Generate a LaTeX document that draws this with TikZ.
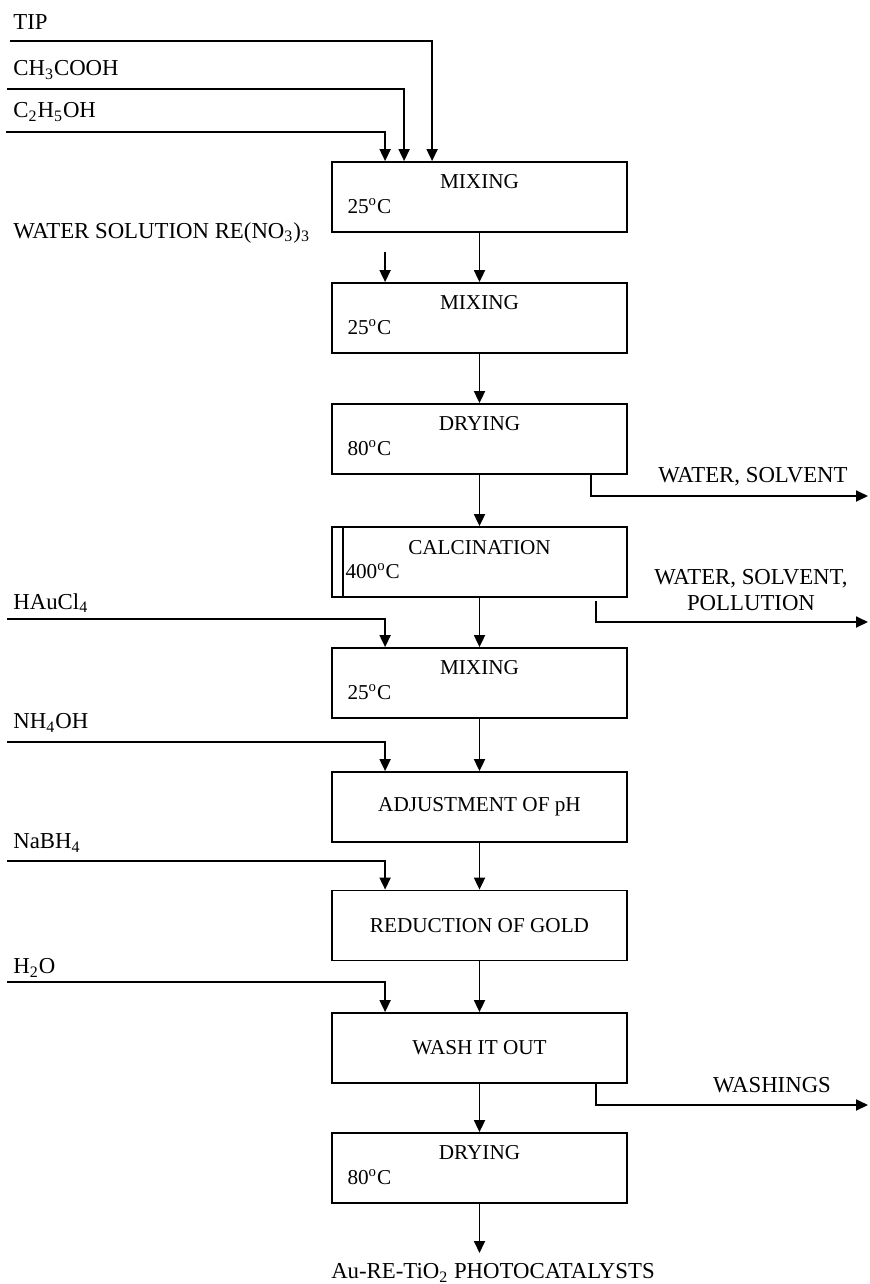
\documentclass[tikz,border=0pt]{standalone}
\usepackage{fontspec}
\setmainfont{Liberation Serif}
\usetikzlibrary{arrows.meta}
\tikzset{
  procbox/.style={draw,line width=0.9pt,minimum width=147.5pt,minimum height=35pt,inner sep=0pt,font=\fontsize{10.6}{13}\selectfont},
  boxtext/.style={inner sep=0pt,font=\fontsize{10.6}{13}\selectfont},
  feed/.style={inner sep=0pt,anchor=west,font=\fontsize{11.4}{13}\selectfont},
  outlabel/.style={inner sep=0pt,align=center,font=\fontsize{11.4}{13}\selectfont},
  flow/.style={line width=0.9pt,-{Triangle[length=6pt,width=5.5pt]}}
}
\begin{document}
\begin{tikzpicture}[x=0.5pt,y=-0.5pt]
\useasboundingbox (0,0) rectangle (869,1284);
% process steps
\node[procbox] (mix1) at (479.5,197) {};
\node[procbox] (mix2) at (479.5,318) {};
\node[procbox] (dry1) at (479.5,439) {};
\node[procbox] (calc) at (479.5,562) {};
\node[procbox] (mix3) at (479.5,683) {};
\node[procbox] (adj) at (479.5,807) {ADJUSTMENT OF pH};
\node[procbox] (red) at (479.5,925.5) {REDUCTION OF GOLD};
\node[procbox] (wash) at (479.5,1048) {WASH IT OUT};
\node[procbox] (dry2) at (479.5,1168) {};
\draw[line width=0.9pt] ([xshift=6pt]calc.north west) -- ([xshift=6pt]calc.south west);
\foreach \b/\t/\c in {mix1/MIXING/25, mix2/MIXING/25, dry1/DRYING/80, mix3/MIXING/25, dry2/DRYING/80}{
  \node[boxtext] (\b-t) at ([yshift=-10pt]\b.north) {\t};
  \node[boxtext,anchor=west] (\b-c) at ([xshift=8pt,yshift=-22.5pt]\b.north west) {\c\textsuperscript{o}C};
}
\node[boxtext] (calc-t) at ([yshift=-10.5pt]calc.north) {CALCINATION};
\node[boxtext,anchor=west] (calc-c) at ([xshift=7pt,yshift=-22.5pt]calc.north west) {400\textsuperscript{o}C};
\foreach \a/\b in {mix1/mix2, mix2/dry1, dry1/calc, calc/mix3, mix3/adj, adj/red, red/wash, wash/dry2}
  \draw[flow] (\a.south) -- (\b.north);

% feeds
\node[feed] (tip) at (13,22) {TIP};
\node[feed] (acid) at (13,70) {CH\textsubscript{3}COOH};
\node[feed] (eth) at (13,112) {C\textsubscript{2}H\textsubscript{5}OH};
\node[feed] (re) at (13,233) {WATER SOLUTION RE(NO\textsubscript{3})\textsubscript{3}};
\node[feed] (gold) at (13,603) {HAuCl\textsubscript{4}};
\node[feed] (amm) at (13,723) {NH\textsubscript{4}OH};
\node[feed] (bor) at (13,843) {NaBH\textsubscript{4}};
\node[feed] (wat) at (13,968) {H\textsubscript{2}O};
\coordinate (tip0) at (10,41);
\coordinate (acid0) at (7,89);
\coordinate (eth0) at (6,132);
\coordinate (re0) at ([xshift=27pt,yshift=15pt]mix2.north west);
\coordinate (gold0) at (7,619);
\coordinate (amm0) at (7,742);
\coordinate (bor0) at (7,861);
\coordinate (wat0) at (7,982);
\draw[flow] (tip0) -| ([xshift=50.5pt]mix1.north west);
\draw[flow] (acid0) -| ([xshift=36.5pt]mix1.north west);
\draw[flow] (eth0) -| ([xshift=27pt]mix1.north west);
\draw[flow] (re0) -- ([xshift=27pt]mix2.north west);
\draw[flow] (gold0) -| ([xshift=27pt]mix3.north west);
\draw[flow] (amm0) -| ([xshift=27pt]adj.north west);
\draw[flow] (bor0) -| ([xshift=27pt]red.north west);
\draw[flow] (wat0) -| ([xshift=27pt]wash.north west);

% outlets
\coordinate (out1) at (868,496);
\coordinate (out2) at (868,622);
\coordinate (out3) at (868,1105);
\draw[flow] ([xshift=130pt]dry1.south west) |- (out1);
\draw[flow] ([xshift=132.5pt,yshift=-1.5pt]calc.south west) |- (out2);
\draw[flow] ([xshift=132.5pt]wash.south west) |- (out3);
\node[outlabel] (w1) at (753,477) {WATER, SOLVENT};
\node[outlabel] (w2) at (751,590) {WATER, SOLVENT,\\POLLUTION};
\node[outlabel] (w3) at (772,1085) {WASHINGS};

% product
\node[outlabel] (prod) at (493,1273) {Au-RE-TiO\textsubscript{2} PHOTOCATALYSTS};
\coordinate (prodin) at (479.5,1253);
\draw[flow] (dry2.south) -- (prodin);
\end{tikzpicture}
\end{document}
